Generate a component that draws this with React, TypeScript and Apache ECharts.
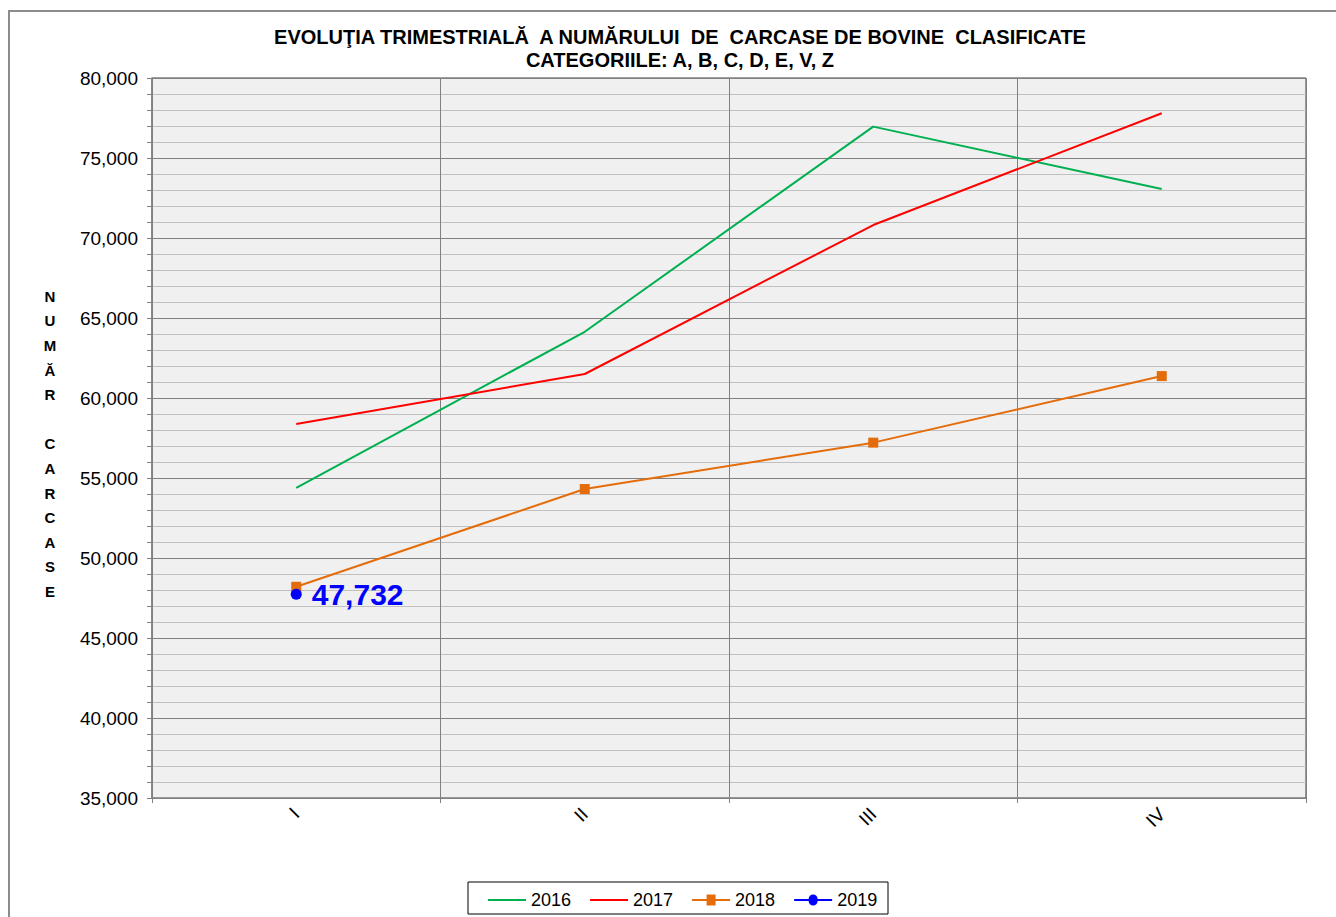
import React, { useEffect, useRef } from "react";
import * as echarts from "echarts";

const categories = ["I", "II", "III", "IV"];
const s2016 = [54390, 64140, 76960, 73060];
const s2017 = [58375, 61500, 70810, 77800];
const s2018 = [48200, 54310, 57210, 61370];
const s2019: (number | null)[] = [47732, null, null, null];
const yTicks = { min: 35000, max: 80000, interval: 5000 };
const legendNames = ["2016", "2017", "2018", "2019"];

const titleLines = [
  "EVOLUŢIA TRIMESTRIALĂ  A NUMĂRULUI  DE  CARCASE DE BOVINE  CLASIFICATE",
  "CATEGORIILE: A, B, C, D, E, V, Z",
];
const yName = "N\nU\nM\nĂ\nR\n\nC\nA\nR\nC\nA\nS\nE";

const ICON_LINE = "path://M0,0h38v2h-38z";
const ICON_SQUARE = "path://M0,4.5h14.5v-4.5h9v4.5h14.5v2h-14.5v4.5h-9v-4.5h-14.5z";
const ICON_CIRCLE =
  "path://M0,4.5h14.5a4.5,4.5 0 0 1 9,0h14.5v2h-14.5a4.5,4.5 0 0 1 -9,0h-14.5z";

export default function App() {
  const ref = useRef<HTMLDivElement>(null);
  useEffect(() => {
    if (!ref.current) return;
    const chart = echarts.init(ref.current, null, { renderer: "svg" });
    const font = "Liberation Sans, Arial, sans-serif";
    chart.setOption({
      animation: false,
      backgroundColor: "#ffffff",
      textStyle: { fontFamily: font },
      graphic: [
        {
          type: "rect",
          shape: { x: 9, y: 11, width: 1400, height: 1000 },
          style: { fill: "none", stroke: "#8c8c8c", lineWidth: 2 },
          silent: true,
        },
        {
          type: "text",
          x: 680,
          y: 25.5,
          style: {
            text: titleLines.join("\n"),
            font: "bold 20px " + font,
            fill: "#000",
            align: "center",
            lineHeight: 23,
          },
        },
        {
          type: "text",
          x: 50,
          y: 284,
          style: {
            text: yName,
            font: "bold 15px " + font,
            fill: "#000",
            align: "center",
            lineHeight: 24.6,
          },
        },
        {
          type: "rect",
          shape: { x: 468, y: 882, width: 420, height: 32 },
          style: { fill: "#fff", stroke: "#000", lineWidth: 1 },
          z: -1,
        },
      ],
      grid: {
        left: 152,
        right: 30,
        top: 78,
        bottom: 119,
        show: true,
        backgroundColor: "#f0f0f0",
        borderColor: "#404040",
        borderWidth: 1,
      },
      legend: {
        top: 891,
        left: 488,
        padding: 0,
        itemWidth: 38,
        itemHeight: 11,
        itemGap: 19,
        textStyle: { fontSize: 18, color: "#000", fontFamily: font },
        data: [
          { name: legendNames[0], icon: ICON_LINE },
          { name: legendNames[1], icon: ICON_LINE },
          { name: legendNames[2], icon: ICON_SQUARE },
          { name: legendNames[3], icon: ICON_CIRCLE },
        ],
      },
      xAxis: {
        type: "category",
        data: categories,
        boundaryGap: true,
        axisLine: { lineStyle: { color: "#808080", width: 1 } },
        axisTick: { show: true, length: 5, lineStyle: { color: "#808080" } },
        axisLabel: { rotate: 45, margin: 13, fontSize: 19, color: "#000" },
        splitLine: { show: true, lineStyle: { color: "#808080", width: 1 } },
      },
      yAxis: {
        type: "value",
        min: yTicks.min,
        max: yTicks.max,
        interval: yTicks.interval,
        axisLine: { show: true, lineStyle: { color: "#808080", width: 1.5 } },
        axisTick: { show: true, length: 5, lineStyle: { color: "#808080" } },
        minorTick: { show: true, splitNumber: 5, length: 5, lineStyle: { color: "#808080" } },
        axisLabel: {
          fontSize: 19,
          color: "#000",
          margin: 14,
          formatter: (v: number) => v.toLocaleString("en-US"),
        },
        splitLine: { show: true, lineStyle: { color: "#808080", width: 1 } },
        minorSplitLine: { show: true, lineStyle: { color: "#c0c0c0", width: 1 } },
      },
      series: [
        {
          name: legendNames[0],
          type: "line",
          data: s2016,
          symbol: "none",
          lineStyle: { color: "#00b050", width: 2 },
          itemStyle: { color: "#00b050" },
        },
        {
          name: legendNames[1],
          type: "line",
          data: s2017,
          symbol: "none",
          lineStyle: { color: "#ff0000", width: 2 },
          itemStyle: { color: "#ff0000" },
        },
        {
          name: legendNames[2],
          type: "line",
          data: s2018,
          symbol: "rect",
          symbolSize: 10,
          lineStyle: { color: "#e46c0a", width: 2 },
          itemStyle: { color: "#e46c0a" },
        },
        {
          name: legendNames[3],
          type: "line",
          data: s2019,
          symbol: "circle",
          symbolSize: 11,
          lineStyle: { color: "#0000ff", width: 2 },
          itemStyle: { color: "#0000ff" },
          label: {
            show: true,
            position: "right",
            distance: 10,
            fontSize: 30,
            fontWeight: "bold",
            color: "#0000ff",
            formatter: (p: any) => Number(p.value).toLocaleString("en-US"),
          },
          z: 5,
        },
      ],
    });
    return () => chart.dispose();
  }, []);
  return (
    <div
      ref={ref}
      style={{ position: "absolute", left: 0, top: 0, width: 1336, height: 917 }}
    />
  );
}
